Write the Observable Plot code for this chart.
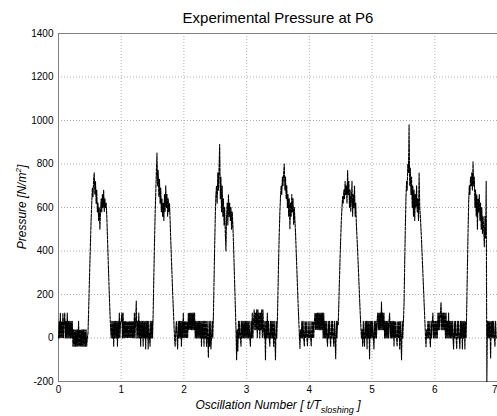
<!DOCTYPE html>
<html>
<head>
<meta charset="utf-8">
<script src="https://cdn.jsdelivr.net/npm/d3@7"></script>
<script src="https://cdn.jsdelivr.net/npm/@observablehq/plot@0.6"></script>
<style>
  html, body { margin: 0; padding: 0; background: #fff; }
  #chart { width: 497px; height: 416px; overflow: hidden; }
</style>
</head>
<body>
<div id="chart"></div>
<script>
const title = "Experimental Pressure at P6";
const xTicks = [0, 1, 2, 3, 4, 5, 6, 7];
const xTickLabels = ["0", "1", "2", "3", "4", "5", "6", "7"];
const yTicks = [-200, 0, 200, 400, 600, 800, 1000, 1200, 1400];
const sampleStep = 0.01;

const cycle0 = [0, 77, 0, 115, 0, 77, 0, 115, 0, 77, 115, 0, 77, 0, 115, 0, 77, 0, 77, 0,
  77, 0, 77, -38, 38, -38, 38, -38, 38, -38, 38, -38, 77, -38, 38, -38, 38, -38, 38, -38, 38, -38, 38, -38, 38, -38, 0,
  20, 120, 230, 340, 440, 540, 620, 690, 650, 730, 760, 660, 720, 620, 680, 580, 620, 540, 600, 500,
  580, 640, 580, 660, 600, 680, 580, 640, 600, 620, 560, 470, 380, 290, 200, 120, 50, 0,
  77, 0, 77, -38, 77, 0, 77, 0, 77, -38, 77, 0, 115, 0, 77];

const cycle1 = [77, 115, 0, 115, 0, 77, 0, 77, 0, 77, 0, 77, 0, 77, 0, 77, 0, 77, 0, 77,
  0, 115, 0, 77, 170, 0, 77, 0, 115, 0, 77, -38, 77, 0, 77, -38, 77, 0, 77, -50,
  77, 0, 77, -50, 77, 0, -38, 77, 0, 77, 0,
  120, 280, 430, 560, 660, 760, 850, 700, 770, 650, 730, 620, 690, 580, 640, 560, 620, 540, 660, 580,
  700, 600, 660, 560, 640, 580, 620, 540, 450, 370, 290, 210, 140, 70, 0, -38, 38,
  77, 0, -50, 77, 0, 77, 0, 77, -38, 77, 0, 115];

const cycle2 = [0, 77, 0, 77, 0, 77, 0, 115, 38, 115, 38, 115, 38, 115, 38, 115, 38, 115, 0, 77,
  0, 77, 0, 77, 0, 77, 0, 77, -38, 77, 0, 77, -38, 77, 0, 77, -38, 77, 0, -90,
  77, -38, 77, -50, 0, 77, 0,
  100, 260, 420, 560, 660, 700, 620, 760, 680, 780, 890, 640, 740, 580, 700, 560, 640, 520, 600, 480,
  400, 560, 620, 520, 660, 560, 620, 540, 600, 500, 580, 520, 440, 340, 240, 140, 40, -100, 38, -60,
  77, 0, 77, 0, -38, 77, 0, 77, 0, 77, 0, 77, 0];

const cycle3 = [77, 0, 77, 0, 77, 0, -38, 77, 0, 115, 0, 77, 130, 38, 115, 38, 130, 0, 130, 38,
  115, 0, 115, 38, 130, 0, 130, 38, 0, 77, -100, 77, 0, 115, 0, 77, 0, -38, 77, 0,
  77, 0, 77, -38, 77, 0, -100, 77, 0,
  80, 220, 360, 480, 580, 650, 700, 660, 740, 700, 760, 800, 680, 740, 640, 700, 600, 660, 560, 640,
  500, 620, 560, 660, 580, 640, 520, 600, 540, 480, 400, 320, 240, 160, 90, 20, -48, 38, 0, 77,
  0, 77, 0, -38, 77, 0, 77, 0, -38, 77, 0];

const cycle4 = [0, 77, 0, -38, 77, 0, 77, 0, 77, 115, 38, 115, 38, 115, 38, 115, 38, 115, 38, 115,
  38, 115, 0, 115, 0, 77, 0, 77, 0, -38, 77, 0, 77, 0, -38, 77, 0, 77, 0, -38,
  77, 0, -95, 77, 0, 77,
  60, 160, 270, 370, 460, 540, 600, 650, 620, 680, 640, 720, 660, 700, 620, 770, 660, 720, 600, 680,
  580, 640, 720, 560, 660, 600, 700, 560, 620, 520, 460, 400, 330, 260, 190, 120, 60, 0, 38, -38,
  77, 0,
  -38, 77, 0, 77, -50, 77, 0, 77, -95, 77, 0, 77];

const cycle5 = [0, 77, 0, -50, 77, 0, 77, 0, 77, 115, 38, 115, 38, 115, 38, 165, 38, 115, 38, 115,
  0, 77, 0, 77, 0, 77, 0, 77, 115, 0, 77, 0, 77, 0, 77, -38, 77, 0, 77, 0,
  -38, 77, 0, 77, -50, 77, 0, -100, 77, 0, 77,
  160, 340, 500, 640, 720, 680, 800, 760, 980, 700, 780, 660, 740, 600, 700, 560, 680, 540, 660, 600,
  700, 580, 640, 540, 760, 600, 560, 500, 440, 370, 300, 230, 160, 90, 20, -40, 38, 0, 77,
  0, 77, 0, -40, 77, 0, 77, 115, 0, 77];

const cycle6 = [0, 77, 0, 77, 0, 115, 38, 115, 38, 115, 165, 38, 115, 38, 115, 38, 115, 0, 115, 0,
  77, 0, 115, 0, 77, 0, 77, 0, 77, 0, -50, 77, 0, 77, 0, -50, 77, 0, 77, 0,
  -50, 77, 0, 77, -50, 77, 0, 77, -50, 77, 0,
  150, 320, 480, 620, 700, 660, 740, 700, 760, 680, 810, 700, 740, 600, 680, 560, 660, 500, 640, 580,
  660, 540, 620, 500, 600, 480, 560, 500, 420, 560, 460, 720, -200,
  77, 0, 77, 0, 77, -95, 77, 0, 77, 0, 77, 0, -38, 77, 0];

const cycles = [cycle0, cycle1, cycle2, cycle3, cycle4, cycle5, cycle6];
const data = [];
cycles.forEach((c, k) => c.forEach((p, i) => data.push({t: k + i * sampleStep, p})));

const font = "'Liberation Sans', Arial, Helvetica, sans-serif";
const axisGray = "#808080";

const svg = Plot.plot({
  width: 497,
  height: 416,
  marginTop: 33,
  marginBottom: 35,
  marginLeft: 58,
  marginRight: 0,
  style: {fontFamily: font, fontSize: "10px", background: "#fff", color: "#000"},
  x: {domain: [0, 7]},
  y: {domain: [-200, 1400]},
  marks: [
    Plot.gridX(xTicks, {stroke: "#b0b0b0", strokeOpacity: 1, strokeDasharray: "1,2"}),
    Plot.gridY(yTicks, {stroke: "#b0b0b0", strokeOpacity: 1, strokeDasharray: "1,2"}),
    Plot.ruleX([0], {stroke: axisGray}),
    Plot.ruleY([-200, 1400], {stroke: axisGray}),
    Plot.line(data, {x: "t", y: "p", stroke: "#000", strokeWidth: 1.1, strokeDasharray: "3,1.2"}),
    Plot.axisX(xTicks.slice(0, 7), {tickSize: 0, tickPadding: 4, label: null, tickFormat: (d, i) => xTickLabels[i], fill: "#000"}),
    Plot.axisX([7], {tickSize: 0, tickPadding: 4, label: null, tickFormat: () => xTickLabels[7], textAnchor: "end", dx: 0, fill: "#000"}),
    Plot.axisY(yTicks, {tickSize: 0, tickPadding: 5, label: null, tickFormat: d => String(d), fill: "#000"})
  ]
});

const s = d3.select(svg);
s.append("text")
  .attr("x", 278).attr("y", 23)
  .attr("text-anchor", "middle")
  .style("font-family", font).style("font-size", "15px").attr("fill", "#000")
  .text(title);

const xl = s.append("text")
  .attr("x", 278).attr("y", 409)
  .attr("text-anchor", "middle")
  .style("font-family", font).style("font-size", "12px").style("font-style", "italic").attr("fill", "#000");
xl.append("tspan").text("Oscillation Number [ t/T");
xl.append("tspan").attr("dy", 4).style("font-size", "9px").text("sloshing");
xl.append("tspan").attr("dy", -4).text(" ]");

const yl = s.append("text")
  .attr("transform", "translate(26,207) rotate(-90)")
  .attr("text-anchor", "middle")
  .style("font-family", font).style("font-size", "12px").style("font-style", "italic").attr("fill", "#000");
yl.append("tspan").text("Pressure [N/m");
yl.append("tspan").attr("dy", -5).style("font-size", "8px").text("2");
yl.append("tspan").attr("dy", 5).text("]");

document.getElementById("chart").appendChild(svg);
</script>
</body>
</html>
